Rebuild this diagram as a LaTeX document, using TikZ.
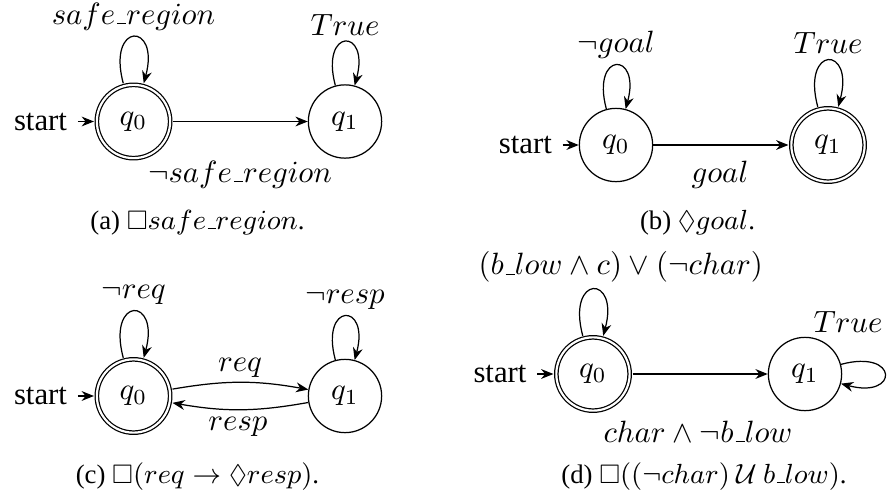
\documentclass[tikz,border=0pt]{standalone}
\usepackage{amssymb}
\usepackage[no-math]{fontspec}
\setmainfont{Liberation Serif}
\usetikzlibrary{arrows.meta,positioning}
\newcommand{\usc}{\kern.06em\vbox{\hrule width.3em}}
\begin{document}
\begin{tikzpicture}[x=0.3247pt,y=0.3247pt,
  >={Stealth[length=4pt,width=3.2pt]},
  statebox/.style={circle,draw,line width=0.4pt,minimum size=23.8pt,inner sep=0pt},
  accbox/.style={statebox,double,double distance=0.7pt,outer sep=0.95pt},
  lbl/.style={inner sep=0pt,anchor=base},
  caplbl/.style={lbl,font=\fontsize{8.7pt}{10pt}\selectfont},
  looplbl/.style={above=-1.3pt},
  arr/.style={->,line width=0.4pt},
  every loop/.style={}]
\useasboundingbox (0,0) rectangle (892,497);

% (a)
\node[accbox] (q0a) at (133.5,375.5) {$q_0$};
\node[statebox] (q1a) at (345,375.5) {$q_1$};
\node[left=5.2pt of q0a] (sa) {start};
\draw[arr] (sa) -- (q0a);
\draw[arr] (q0a) to[loop above] node[looplbl] (la1) {$safe\usc region$} (q0a);
\draw[arr] (q1a) to[loop above] node[looplbl] (la2) {$True$} (q1a);
\draw[arr] (q0a) -- (q1a);
\node[lbl] (la3) at (240,315) {$\neg safe\usc region$};
\node[caplbl] (capa) at (197.5,268) {(a) $\Box safe\usc region$.};

% (b)
\node[statebox] (q0b) at (616,352) {$q_0$};
\node[accbox] (q1b) at (828,352) {$q_1$};
\node[left=5.2pt of q0b] (sb) {start};
\draw[arr] (sb) -- (q0b);
\draw[arr] (q0b) to[loop above] node[looplbl] (lb1) {$\neg goal$} (q0b);
\draw[arr] (q1b) to[loop above] node[looplbl] (lb2) {$True$} (q1b);
\draw[arr] (q0b) -- (q1b);
\node[lbl] (lb3) at (720,315) {$goal$};
\node[caplbl] (capb) at (697.5,268) {(b) $\Diamond goal$.};

% (c)
\node[accbox] (q0c) at (133.5,101) {$q_0$};
\node[statebox] (q1c) at (345,101) {$q_1$};
\node[left=5.2pt of q0c] (sc) {start};
\draw[arr] (sc) -- (q0c);
\draw[arr] (q0c) to[loop above] node[looplbl] (lc1) {$\neg req$} (q0c);
\draw[arr] (q1c) to[loop above] node[looplbl] (lc2) {$\neg resp$} (q1c);
\draw[arr] (q0c) to[bend left=10] (q1c);
\draw[arr] (q1c) to[bend left=10] (q0c);
\node[lbl] (lc3) at (240,126) {$req$};
\node[lbl] (lc4) at (238,67) {$resp$};
\node[caplbl] (capc) at (197.5,14) {(c) $\Box(req \rightarrow \Diamond resp)$.};

% (d)
\node[accbox] (q0d) at (593,123) {$q_0$};
\node[statebox] (q1d) at (805,123) {$q_1$};
\node[left=5.2pt of q0d] (sd) {start};
\draw[arr] (sd) -- (q0d);
\draw[arr] (q0d) to[loop above] node[looplbl,xshift=9pt] (ld1) {$(b\usc low \wedge c) \vee (\neg char)$} (q0d);
\draw[arr] (q1d) to[loop right] (q1d);
\node[lbl] (ld2) at (848,165) {$True$};
\draw[arr] (q0d) -- (q1d);
\node[lbl] (ld3) at (698,55) {$char \wedge \neg b\usc low$};
\node[caplbl] (capd) at (704,14) {(d) $\Box((\neg char) \mathbin{\mathcal{U}} b\usc low)$.};
\end{tikzpicture}
\end{document}
